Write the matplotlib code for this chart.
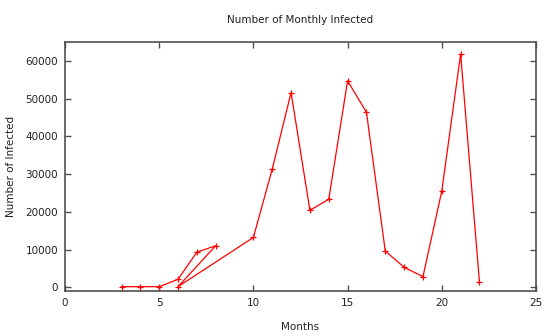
import matplotlib
matplotlib.use("Agg")
import matplotlib.pyplot as plt

# Monthly infection counts (month index, infected)
months = [3, 4, 5, 6, 7, 8, 6, 10, 11, 12, 13, 14, 15, 16, 17, 18, 19, 20, 21, 22]
infected = [150, 150, 150, 2100, 9300, 11000, 150, 13200, 31300, 51600, 20400, 23300,
            54700, 46400, 9600, 5300, 2800, 25500, 61800, 1300]

xticks = [0, 5, 10, 15, 20, 25]
yticks = [0, 10000, 20000, 30000, 40000, 50000, 60000]

plt.rcParams['font.family'] = ['DejaVu Sans']
plt.rcParams['font.size'] = 7.5

fig = plt.figure(figsize=(5.54, 3.35), dpi=100)
ax = fig.add_axes([0.1173, 0.1313, 0.8502, 0.7433])

ax.plot(months, infected, color="#ff0000", linewidth=0.9,
        marker="+", markersize=5, markeredgewidth=0.9)

ax.set_xlim(0, 25)
ax.set_ylim(-1000, 65000)
ax.set_xticks(xticks)
ax.set_yticks(yticks)

for s in ax.spines.values():
    s.set_color("#505050")
    s.set_linewidth(1.2)
ax.tick_params(direction="in", top=True, right=True, length=4.5, width=1.0,
               color="#505050", labelcolor="#222222", pad=5)

ax.set_title("Number of Monthly Infected", fontsize=7.5, pad=14, color="#222222")
ax.set_xlabel("Months", color="#222222", labelpad=10)
ax.set_ylabel("Number of Infected", color="#222222", labelpad=7)

fig.savefig("out.png", dpi=100)
